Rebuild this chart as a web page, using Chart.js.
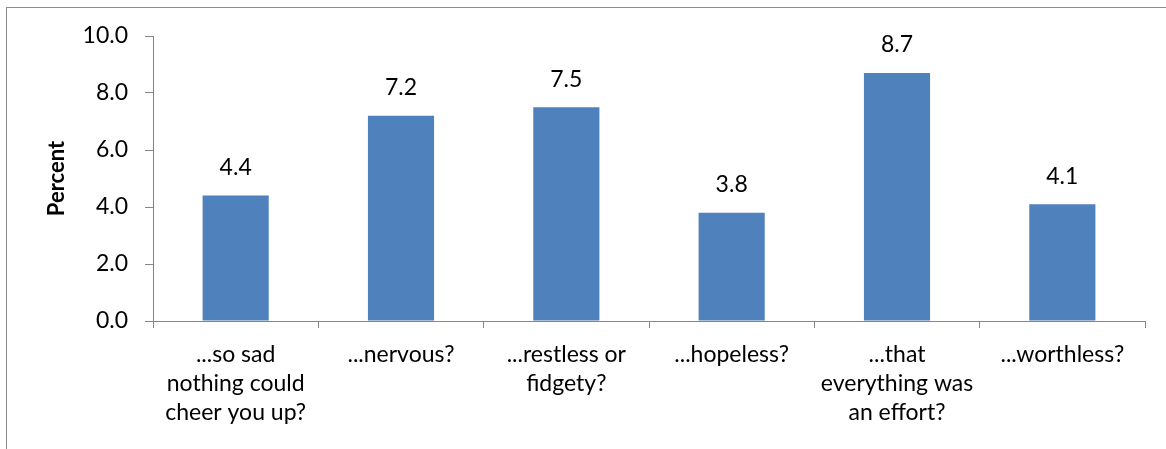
<!DOCTYPE html>
<html>
<head>
<meta charset="utf-8">
<script src="https://cdn.jsdelivr.net/npm/chart.js@4"></script>
<style>
  html, body { margin: 0; padding: 0; background: #fff; overflow: hidden; }
  #frame { position: absolute; left: 6px; top: 7px; width: 1300px; height: 600px; border: 1px solid #8c8c8c; }
  #wrap { position: absolute; left: 0; top: 0; width: 1166px; height: 449px; }
</style>
</head>
<body>
<div id="frame"></div>
<div id="wrap"><canvas id="chart"></canvas></div>
<script>
  const categories = [
    ['...so sad', 'nothing could', 'cheer you up?'],
    ['...nervous?'],
    ['...restless or', 'fidgety?'],
    ['...hopeless?'],
    ['...that', 'everything was', 'an effort?'],
    ['...worthless?']
  ];
  const percents = [4.4, 7.2, 7.5, 3.8, 8.7, 4.1];
  const yTicks = [0, 2, 4, 6, 8, 10];

  const fontFamily = 'Lato, "Open Sans", sans-serif';
  const axisGray = '#868686';

  // value labels above each bar
  const barLabels = {
    id: 'barLabels',
    afterDatasetsDraw(chart) {
      const ctx = chart.ctx;
      const meta = chart.getDatasetMeta(0);
      ctx.save();
      ctx.font = '23px ' + fontFamily;
      ctx.fillStyle = '#000';
      ctx.textAlign = 'center';
      ctx.textBaseline = 'middle';
      meta.data.forEach(function (bar, i) {
        ctx.fillText(percents[i].toFixed(1), bar.x, bar.y - 28);
      });
      ctx.restore();
    }
  };

  const ctx = document.getElementById('chart').getContext('2d');
  const chart = new Chart(ctx, {
    type: 'bar',
    data: {
      labels: categories,
      datasets: [{
        data: percents,
        backgroundColor: '#4F81BD',
        borderWidth: 0,
        categoryPercentage: 1,
        barPercentage: 0.4
      }]
    },
    options: {
      responsive: true,
      maintainAspectRatio: false,
      animation: false,
      layout: { padding: { left: 44, right: 21, top: 36, bottom: 0 } },
      plugins: {
        legend: { display: false },
        tooltip: { enabled: false }
      },
      scales: {
        x: {
          offset: true,
          grid: { display: true, drawOnChartArea: false, drawTicks: true, tickLength: 7, color: axisGray, offset: true },
          border: { color: axisGray, width: 1 },
          ticks: {
            color: '#000',
            font: { family: fontFamily, size: 23, lineHeight: 1.26 },
            padding: 12,
            maxRotation: 0,
            autoSkip: false
          },
          afterFit(scale) { scale.height = 128; }
        },
        y: {
          min: 0,
          max: 10,
          afterBuildTicks(scale) { scale.ticks = yTicks.map(v => ({ value: v })); },
          grid: { display: true, drawOnChartArea: false, drawTicks: true, tickLength: 8, color: axisGray },
          border: { color: axisGray, width: 1 },
          ticks: {
            color: '#000',
            font: { family: fontFamily, size: 23 },
            padding: 17,
            callback: v => Number(v).toFixed(1)
          },
          title: {
            display: true,
            text: 'Percent',
            color: '#000',
            font: { family: fontFamily, size: 22, weight: 'bold' },
            padding: 0
          },
          afterFit(scale) { scale.width = 109; }
        }
      }
    },
    plugins: [barLabels]
  });
</script>
</body>
</html>
